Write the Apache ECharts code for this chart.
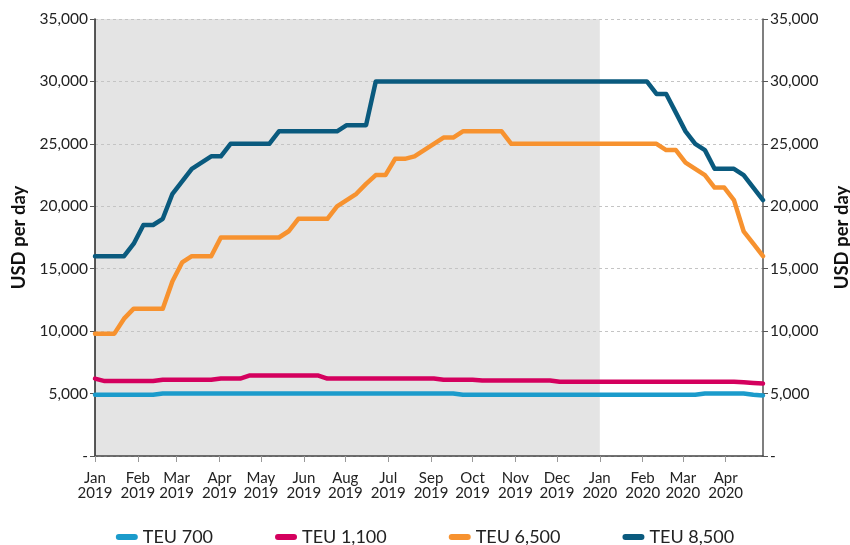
<!DOCTYPE html>
<html>
<head>
<meta charset="utf-8">
<script src="https://cdn.jsdelivr.net/npm/echarts@6/dist/echarts.min.js"></script>
<style>
html,body{margin:0;padding:0;background:#fff;}
#chart{width:850px;height:545px;}
</style>
</head>
<body>
<div id="chart"></div>
<script>
const dates = [
  '2019-01-01','2019-01-08','2019-01-15','2019-01-22','2019-01-29',
  '2019-02-05','2019-02-12','2019-02-19','2019-02-26',
  '2019-03-05','2019-03-12','2019-03-19','2019-03-26',
  '2019-04-02','2019-04-09','2019-04-16','2019-04-23','2019-04-30',
  '2019-05-07','2019-05-14','2019-05-21','2019-05-28',
  '2019-06-04','2019-06-11','2019-06-18','2019-06-25',
  '2019-07-02','2019-07-09','2019-07-16','2019-07-23','2019-07-30',
  '2019-08-06','2019-08-13','2019-08-20','2019-08-27',
  '2019-09-03','2019-09-10','2019-09-17','2019-09-24',
  '2019-10-01','2019-10-08','2019-10-15','2019-10-22','2019-10-29',
  '2019-11-05','2019-11-12','2019-11-19','2019-11-26',
  '2019-12-03','2019-12-10','2019-12-17','2019-12-24','2019-12-31',
  '2020-01-07','2020-01-14','2020-01-21','2020-01-28',
  '2020-02-04','2020-02-11','2020-02-18','2020-02-25',
  '2020-03-03','2020-03-10','2020-03-17','2020-03-24','2020-03-31',
  '2020-04-07','2020-04-14','2020-04-21','2020-04-28'
];

const teu700 = [
  4900,4900,4900,4900,4900,4900,4900,5000,5000,5000,
  5000,5000,5000,5000,5000,5000,5000,5000,5000,5000,
  5000,5000,5000,5000,5000,5000,5000,5000,5000,5000,
  5000,5000,5000,5000,5000,5000,5000,5000,4900,4900,
  4900,4900,4900,4900,4900,4900,4900,4900,4900,4900,
  4900,4900,4900,4900,4900,4900,4900,4900,4900,4900,
  4900,4900,4900,5000,5000,5000,5000,5000,4900,4850
];

const teu1100 = [
  6200,6000,6000,6000,6000,6000,6000,6100,6100,6100,
  6100,6100,6100,6200,6200,6200,6450,6450,6450,6450,
  6450,6450,6450,6450,6200,6200,6200,6200,6200,6200,
  6200,6200,6200,6200,6200,6200,6100,6100,6100,6100,
  6050,6050,6050,6050,6050,6050,6050,6050,5950,5950,
  5950,5950,5950,5950,5950,5950,5950,5950,5950,5950,
  5950,5950,5950,5950,5950,5950,5950,5900,5850,5800
];

const teu6500 = [
  9800,9800,9800,11000,11800,11800,11800,11800,14000,15500,
  16000,16000,16000,17500,17500,17500,17500,17500,17500,17500,
  18000,19000,19000,19000,19000,20000,20500,21000,21800,22500,
  22500,23800,23800,24000,24500,25000,25500,25500,26000,26000,
  26000,26000,26000,25000,25000,25000,25000,25000,25000,25000,
  25000,25000,25000,25000,25000,25000,25000,25000,25000,24500,
  24500,23500,23000,22500,21500,21500,20500,18000,17000,16000
];

const teu8500 = [
  16000,16000,16000,16000,17000,18500,18500,19000,21000,22000,
  23000,23500,24000,24000,25000,25000,25000,25000,25000,26000,
  26000,26000,26000,26000,26000,26000,26500,26500,26500,30000,
  30000,30000,30000,30000,30000,30000,30000,30000,30000,30000,
  30000,30000,30000,30000,30000,30000,30000,30000,30000,30000,
  30000,30000,30000,30000,30000,30000,30000,30000,29000,29000,
  27500,26000,25000,24500,23000,23000,23000,22500,21500,20500
];

const seriesNames = ['TEU 700','TEU 1,100','TEU 6,500','TEU 8,500'];
const seriesColors = ['#1b9bcb','#d4005e','#f7922f','#0a5a7e'];
const tickLabels = [
  'Jan\n2019','Feb\n2019','Mar\n2019','Apr\n2019','May\n2019','Jun\n2019',
  'Aug\n2019','Jul\n2019','Sep\n2019','Oct\n2019','Nov\n2019','Dec\n2019',
  'Jan\n2020','Feb\n2020','Mar\n2020','Apr\n2020'
];
const shadeRange = ['2019-01-01','2020-01-01'];

const allValues = [teu700, teu1100, teu6500, teu8500];
const FONT = 'Lato';
const DAY = 86400000;

function yFmt(v){ return v === 0 ? '-' : v.toLocaleString('en-US'); }

function xFmt(value){
  const d = new Date(value);
  if (d.getDate() !== 1) return '';
  const k = (d.getFullYear() - 2019) * 12 + d.getMonth();
  return tickLabels[k] || '';
}

const chart = echarts.init(document.getElementById('chart'), null, {renderer:'canvas'});

const yAxisBase = {
  type:'value', min:0, max:35000, interval:5000,
  name:'USD per day', nameLocation:'middle', nameRotate:90,
  nameTextStyle:{fontFamily:FONT, fontWeight:'bold', fontSize:18.5, color:'#111'},
  axisTick:{show:true, length:5, lineStyle:{color:'#555'}},
  axisLabel:{formatter:yFmt, fontFamily:FONT, fontSize:15.5, color:'#222', margin:7}
};

const series = allValues.map((vals, s) => ({
  name: seriesNames[s],
  type:'line',
  data: dates.map((d,i) => [d, vals[i]]),
  showSymbol:false,
  symbol:'none',
  lineStyle:{width:4.5, color:seriesColors[s], cap:'round', join:'round'},
  itemStyle:{color:seriesColors[s]},
  z: 3 + s
}));
series.push({
  type:'line', data:[], silent:true, z:-1,
  markArea:{silent:true, z:-1, itemStyle:{color:'#e4e4e4'},
    data:[[{xAxis:shadeRange[0]},{xAxis:shadeRange[1]}]]}
});

chart.setOption({
  animation:false,
  textStyle:{fontFamily:FONT},
  grid:{left:95, right:87, top:19, bottom:89, containLabel:false, outerBoundsMode:'none'},
  legend:{
    data:seriesNames,
    top:523, left:'center',
    icon:'path://M3,0 L19,0 A3,3 0 0 1 19,6 L3,6 A3,3 0 0 1 3,0 Z',
    itemWidth:22, itemHeight:6, itemGap:62,
    textStyle:{fontFamily:FONT, fontSize:18, color:'#222'}
  },
  xAxis:{
    type:'time', min:'2019-01-01', max:'2020-04-28',
    splitNumber:16, minInterval:28*DAY, maxInterval:31*DAY,
    axisLine:{lineStyle:{color:'#444', width:1.5}},
    axisTick:{show:true, length:6, lineStyle:{color:'#999'}},
    axisLabel:{formatter:xFmt, fontFamily:FONT, fontSize:15, lineHeight:15, color:'#222', margin:15, showMaxLabel:false, showMinLabel:true, hideOverlap:false},
    splitLine:{show:false}
  },
  yAxis:[
    Object.assign({}, yAxisBase, {
      position:'left', nameGap:64,
      axisLine:{show:true, lineStyle:{color:'#222', width:1.5}},
      splitLine:{show:true, lineStyle:{color:'#c4c4c4', type:[3,3], width:1}}
    }),
    Object.assign({}, yAxisBase, {
      position:'right', nameGap:70,
      axisLine:{show:true, lineStyle:{color:'#555', width:1.5}},
      splitLine:{show:false}
    })
  ],
  series: series
});
</script>
</body>
</html>
